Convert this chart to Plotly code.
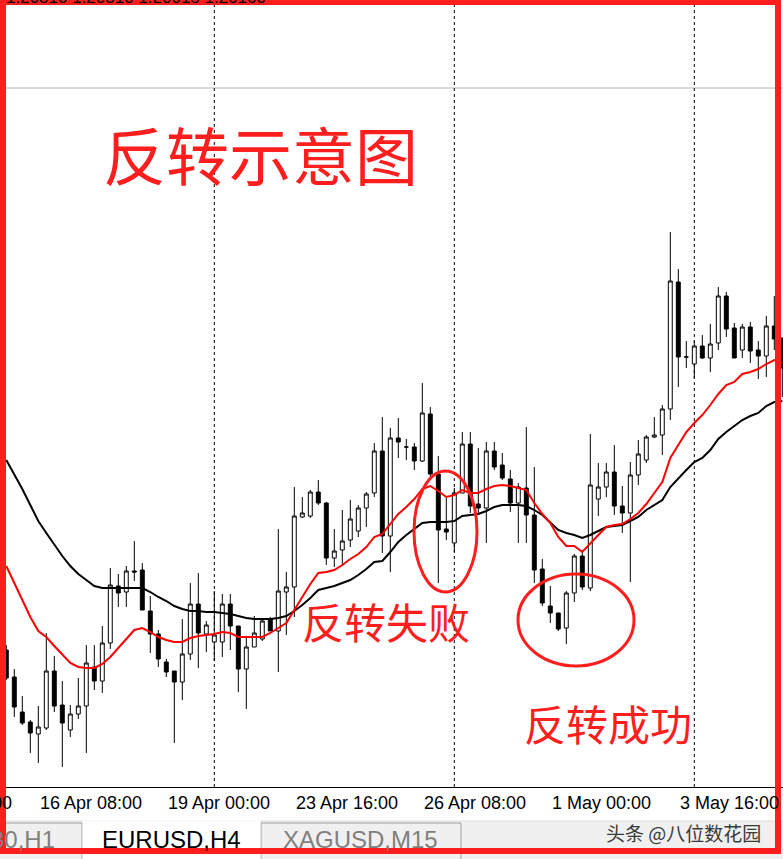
import plotly.graph_objects as go

# ---------------- data (EURUSD H4) ----------------
candle_idx = list(range(98))

opens = [1.18750, 1.18615, 1.18440, 1.18390, 1.18330, 1.18360, 1.18645, 1.18475, 1.18350, 1.18430,
         1.18470, 1.18665, 1.18595, 1.18785, 1.19070, 1.19040, 1.19145, 1.19150, 1.18945, 1.18830,
         1.18690, 1.18645, 1.18590, 1.18730, 1.18980, 1.18830, 1.18790, 1.18790, 1.18980, 1.18870,
         1.18655, 1.18765, 1.18805, 1.18905, 1.18845, 1.19040, 1.19065, 1.19415, 1.19420, 1.19540,
         1.19485, 1.19210, 1.19250, 1.19300, 1.19345, 1.19460, 1.19535, 1.19745, 1.19320, 1.19810,
         1.19765, 1.19765, 1.19695, 1.19930, 1.19630, 1.19355, 1.19285, 1.19535, 1.19780, 1.19480,
         1.19460, 1.19745, 1.19675, 1.19605, 1.19485, 1.19560, 1.19425, 1.19155, 1.18970, 1.18935,
         1.18860, 1.19035, 1.19220, 1.19060, 1.19505, 1.19565, 1.19640, 1.19470, 1.19435, 1.19625,
         1.19700, 1.19815, 1.19825, 1.19955, 1.20590, 1.20215, 1.20180, 1.20270, 1.20210, 1.20285,
         1.20520, 1.20360, 1.20250, 1.20365, 1.20250, 1.20220, 1.20370, 1.20310]

highs = [1.18775, 1.18655, 1.18520, 1.18400, 1.18470, 1.18835, 1.18720, 1.18595, 1.18475, 1.18610,
         1.18775, 1.18775, 1.18870, 1.19160, 1.19130, 1.19170, 1.19295, 1.19185, 1.19020, 1.18850,
         1.18705, 1.18645, 1.18905, 1.19085, 1.19135, 1.18895, 1.19045, 1.19030, 1.19030, 1.18870,
         1.18820, 1.18920, 1.18905, 1.18915, 1.19355, 1.19140, 1.19565, 1.19515, 1.19550, 1.19600,
         1.19490, 1.19355, 1.19450, 1.19500, 1.19475, 1.19540, 1.19785, 1.19915, 1.19860, 1.19910,
         1.19805, 1.19785, 1.20085, 1.19965, 1.19720, 1.19510, 1.19560, 1.19840, 1.19840, 1.19760,
         1.19790, 1.19790, 1.19735, 1.19650, 1.19585, 1.19865, 1.19665, 1.19205, 1.19070, 1.18935,
         1.19045, 1.19230, 1.19250, 1.19830, 1.19685, 1.19685, 1.19775, 1.19570, 1.19690, 1.19800,
         1.19825, 1.19915, 1.19975, 1.20840, 1.20655, 1.20295, 1.20295, 1.20325, 1.20380, 1.20565,
         1.20540, 1.20385, 1.20380, 1.20390, 1.20295, 1.20420, 1.20520, 1.20310]

lows = [1.18600, 1.18415, 1.18375, 1.18235, 1.18185, 1.18350, 1.18440, 1.18165, 1.18315, 1.18405,
        1.18235, 1.18550, 1.18535, 1.18755, 1.18965, 1.18965, 1.19095, 1.18950, 1.18735, 1.18665,
        1.18615, 1.18285, 1.18500, 1.18700, 1.18660, 1.18740, 1.18695, 1.18715, 1.18750, 1.18540,
        1.18455, 1.18765, 1.18795, 1.18845, 1.18640, 1.18825, 1.18915, 1.19410, 1.19410, 1.19475,
        1.19175, 1.19165, 1.19175, 1.19265, 1.19315, 1.19365, 1.19515, 1.19235, 1.19140, 1.19710,
        1.19700, 1.19650, 1.19690, 1.19615, 1.19085, 1.19300, 1.19240, 1.19535, 1.19435, 1.19435,
        1.19285, 1.19650, 1.19600, 1.19440, 1.19285, 1.19285, 1.19085, 1.18970, 1.18885, 1.18845,
        1.18780, 1.18990, 1.19050, 1.19045, 1.19420, 1.19515, 1.19425, 1.19335, 1.19090, 1.19575,
        1.19685, 1.19810, 1.19725, 1.19900, 1.20065, 1.20160, 1.20110, 1.20205, 1.20140, 1.20250,
        1.20315, 1.20210, 1.20210, 1.20185, 1.20105, 1.20115, 1.20250, 1.20015]

closes = [1.18610, 1.18465, 1.18385, 1.18335, 1.18365, 1.18645, 1.18470, 1.18385, 1.18430, 1.18470,
          1.18685, 1.18595, 1.18785, 1.19075, 1.19035, 1.19145, 1.19140, 1.18950, 1.18830, 1.18705,
          1.18640, 1.18590, 1.18730, 1.18980, 1.18835, 1.18875, 1.18825, 1.18980, 1.18870, 1.18655,
          1.18765, 1.18835, 1.18895, 1.18845, 1.19045, 1.19065, 1.19420, 1.19435, 1.19540, 1.19485,
          1.19210, 1.19245, 1.19295, 1.19405, 1.19460, 1.19530, 1.19745, 1.19320, 1.19810, 1.19790,
          1.19765, 1.19695, 1.19935, 1.19630, 1.19350, 1.19340, 1.19535, 1.19780, 1.19470, 1.19460,
          1.19745, 1.19665, 1.19610, 1.19485, 1.19565, 1.19425, 1.19150, 1.18985, 1.18935, 1.18855,
          1.19035, 1.19220, 1.19065, 1.19575, 1.19565, 1.19640, 1.19470, 1.19435, 1.19625, 1.19730,
          1.19815, 1.19825, 1.19955, 1.20595, 1.20215, 1.20215, 1.20270, 1.20210, 1.20280, 1.20520,
          1.20355, 1.20210, 1.20365, 1.20245, 1.20220, 1.20370, 1.20305, 1.20160]

ma_fast = [1.19170, 1.19085, 1.19000, 1.18915, 1.18845, 1.18815, 1.18770, 1.18725, 1.18685, 1.18665,
           1.18660, 1.18660, 1.18680, 1.18715, 1.18760, 1.18810, 1.18850, 1.18860, 1.18840, 1.18815,
           1.18800, 1.18790, 1.18790, 1.18810, 1.18820, 1.18825, 1.18830, 1.18840, 1.18835, 1.18815,
           1.18815, 1.18815, 1.18815, 1.18835, 1.18860, 1.18885, 1.18950, 1.19015, 1.19080, 1.19135,
           1.19140, 1.19150, 1.19175, 1.19205, 1.19230, 1.19265, 1.19315, 1.19330, 1.19380, 1.19430,
           1.19465, 1.19505, 1.19555, 1.19570, 1.19545, 1.19515, 1.19525, 1.19550, 1.19535, 1.19535,
           1.19555, 1.19570, 1.19575, 1.19570, 1.19560, 1.19550, 1.19485, 1.19430, 1.19385, 1.19315,
           1.19270, 1.19270, 1.19240, 1.19285, 1.19325, 1.19365, 1.19375, 1.19380, 1.19405, 1.19435,
           1.19480, 1.19535, 1.19590, 1.19710, 1.19775, 1.19840, 1.19885, 1.19925, 1.19975, 1.20030,
           1.20075, 1.20090, 1.20130, 1.20140, 1.20155, 1.20180, 1.20200, 1.20185]

ma_slow = [1.19700, 1.19630, 1.19555, 1.19475, 1.19395, 1.19335, 1.19275, 1.19220, 1.19170, 1.19130,
           1.19100, 1.19070, 1.19060, 1.19060, 1.19060, 1.19060, 1.19060, 1.19060, 1.19040, 1.19015,
           1.18995, 1.18970, 1.18955, 1.18945, 1.18945, 1.18940, 1.18940, 1.18935, 1.18930, 1.18920,
           1.18910, 1.18905, 1.18905, 1.18905, 1.18910, 1.18920, 1.18945, 1.18975, 1.19010, 1.19050,
           1.19060, 1.19070, 1.19085, 1.19100, 1.19125, 1.19155, 1.19190, 1.19195, 1.19240, 1.19290,
           1.19325, 1.19355, 1.19385, 1.19390, 1.19390, 1.19390, 1.19395, 1.19420, 1.19425, 1.19430,
           1.19445, 1.19465, 1.19475, 1.19475, 1.19475, 1.19470, 1.19450, 1.19425, 1.19385, 1.19350,
           1.19335, 1.19325, 1.19310, 1.19325, 1.19345, 1.19365, 1.19370, 1.19375, 1.19395, 1.19415,
           1.19450, 1.19475, 1.19500, 1.19565, 1.19610, 1.19650, 1.19690, 1.19710, 1.19750, 1.19805,
           1.19840, 1.19870, 1.19900, 1.19920, 1.19935, 1.19970, 1.19990, 1.19995]

label_idx = [4, 20, 36, 52, 68, 84]
label_text = ["16 Apr 08:00", "19 Apr 00:00", "23 Apr 16:00", "26 Apr 08:00", "1 May 00:00", "3 May 16:00"]
clipped_label = "13 Apr 16:00"
separator_idx = [26, 56, 86]
level_price = 1.21560
header_text = "1.20310 1.20310 1.20015 1.20160"

title_text = "反转示意图"
fail_text = "反转失败"
success_text = "反转成功"
tabs = ["GER30,H1", "EURUSD,H4", "XAGUSD,M15"]
watermark = "头条 @八位数花园"

# ---------------- layout helpers (pixel -> paper) ----------------
W, H = 783, 859
AXIS_Y = 787  # pixel row of the time axis


def px(x):
    return x / W


def py(y):
    return (AXIS_Y - y) / AXIS_Y


RED = "#ff1e1e"
CJK = "Noto Sans CJK SC"
LAT = "Liberation Sans"

fig = go.Figure()
fig.add_trace(go.Candlestick(
    x=candle_idx, open=opens, high=highs, low=lows, close=closes,
    increasing=dict(line=dict(color="black", width=1), fillcolor="white"),
    decreasing=dict(line=dict(color="black", width=1), fillcolor="black"),
    whiskerwidth=0, showlegend=False, hoverinfo="skip"))
fig.add_trace(go.Scatter(x=candle_idx, y=ma_slow, mode="lines",
                         line=dict(color="black", width=2), showlegend=False, hoverinfo="skip"))
fig.add_trace(go.Scatter(x=candle_idx, y=ma_fast, mode="lines",
                         line=dict(color="#ff0000", width=2), showlegend=False, hoverinfo="skip"))

shapes = []
# horizontal level line
shapes.append(dict(type="line", xref="paper", yref="y", x0=0, x1=1, y0=level_price, y1=level_price,
                   line=dict(color="#b4b4b4", width=1), layer="below"))
# period separators
for s in separator_idx:
    shapes.append(dict(type="line", xref="x", yref="paper", x0=s, x1=s, y0=0, y1=1,
                       line=dict(color="black", width=1, dash="3px,3px"), layer="below"))
# tab bar
shapes.append(dict(type="rect", xref="paper", yref="paper", x0=-0.01, x1=1.01, y0=py(870), y1=py(821),
                   fillcolor="#f0f0f0", line=dict(color="#dcdcdc", width=1), layer="above"))
shapes.append(dict(type="rect", xref="paper", yref="paper", x0=px(-20), x1=px(82), y0=py(870), y1=py(823),
                   fillcolor="#f0f0f0", line=dict(color="#a0a0a0", width=1), layer="above"))
shapes.append(dict(type="rect", xref="paper", yref="paper", x0=px(261), x1=px(461), y0=py(870), y1=py(823),
                   fillcolor="#f0f0f0", line=dict(color="#a0a0a0", width=1), layer="above"))
shapes.append(dict(type="rect", xref="paper", yref="paper", x0=px(82.5), x1=px(260.5), y0=py(870), y1=py(820.5),
                   fillcolor="white", line=dict(width=0), layer="above"))
# ellipses
shapes.append(dict(type="circle", xref="paper", yref="paper", x0=px(414), x1=px(477), y0=py(592), y1=py(471),
                   line=dict(color=RED, width=3), layer="above"))
shapes.append(dict(type="circle", xref="paper", yref="paper", x0=px(518), x1=px(634), y0=py(666), y1=py(574),
                   line=dict(color=RED, width=3), layer="above"))
# red frame
shapes.append(dict(type="rect", xref="paper", yref="paper", x0=px(3), x1=px(778), y0=py(851), y1=py(2),
                   line=dict(color=RED, width=6), fillcolor="rgba(0,0,0,0)", layer="above"))


def note(x, y, text, size, color, family, xanchor="center", xref="paper", yanchor="middle"):
    return dict(x=x, xref=xref, y=y, yref="paper", text=text, showarrow=False,
                xanchor=xanchor, yanchor=yanchor, font=dict(family=family, size=size, color=color))


annotations = []
for i, t in zip(label_idx, label_text):
    annotations.append(note(i - 0.1, py(803), t, 18, "black", LAT, xanchor="left", xref="x"))
annotations.append(note(px(-92), py(803), clipped_label, 18, "black", LAT, xanchor="left"))
annotations.append(note(px(4), py(9), header_text, 17, "black", LAT, xanchor="left", yanchor="bottom"))
annotations.append(note(px(260), py(152), title_text, 63, RED, CJK))
annotations.append(note(px(386), py(620), fail_text, 42, RED, CJK))
annotations.append(note(px(608), py(722), success_text, 42, RED, CJK))
annotations.append(note(px(57), py(839), tabs[0], 24, "#7f7f7f", LAT, xanchor="right"))
annotations.append(note(px(171.5), py(839), tabs[1], 24, "black", LAT))
annotations.append(note(px(360.5), py(839), tabs[2], 24, "#7f7f7f", LAT))
annotations.append(note(px(683), py(832), watermark, 19, "#3a3a3a", CJK))

fig.update_layout(
    width=W, height=H,
    margin=dict(l=0, r=0, t=0, b=H - AXIS_Y, pad=0),
    paper_bgcolor="white", plot_bgcolor="white",
    showlegend=False,
    xaxis=dict(range=[-0.7875, 97.0875], showgrid=False, zeroline=False, showline=True,
               linecolor="black", linewidth=1, showticklabels=False, ticks="",
               rangeslider=dict(visible=False), fixedrange=True),
    yaxis=dict(range=[1.18065, 1.22], showgrid=False, zeroline=False, showline=False,
               showticklabels=False, ticks="", fixedrange=True),
    shapes=shapes, annotations=annotations,
)

fig.write_html("out.html", config={"displayModeBar": False},
               post_script="document.body.style.margin='0';document.body.style.overflow='hidden';")
